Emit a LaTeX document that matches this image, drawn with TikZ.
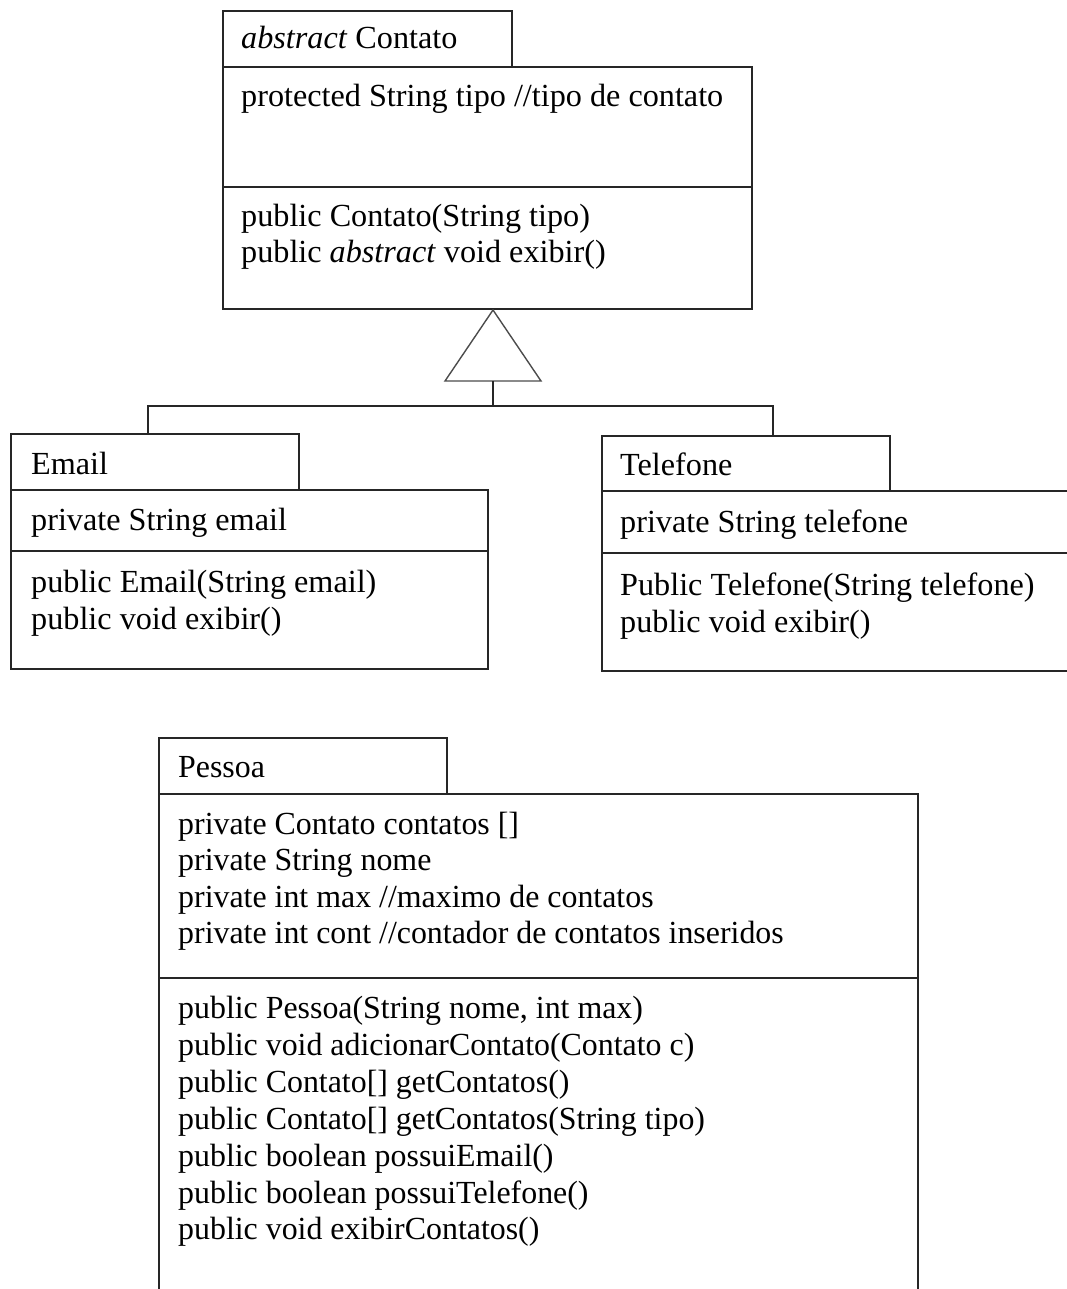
\documentclass[tikz,border=0pt]{standalone}
\usepackage{fontspec}
\setmainfont{Liberation Serif}
\newfontfamily\pfont[FakeStretch=0.99]{Liberation Serif}
\begin{document}
\begin{tikzpicture}[x=1pt,y=-1pt,
  box/.style={draw=black!85,line width=1.6pt,inner sep=0pt,anchor=north west},
  txt/.style={anchor=base west,inner sep=0pt,yshift=-2pt,font=\fontsize{32.2}{37}\selectfont},
  ptxt/.style={anchor=base west,inner sep=0pt,yshift=-2pt,font=\pfont\fontsize{32.2}{37}\selectfont},
  conn/.style={draw=black!85,line width=1.6pt}]
\useasboundingbox (0,0) rectangle (1067,1289);
\clip (0,0) rectangle (1067,1289);
% ---------- Contato ----------
\node[box,minimum width=289,minimum height=56] (cTab) at (222,10) {};
\node[box,minimum width=529,minimum height=120] (cAttr) at (222,66) {};
\node[box,minimum width=529,minimum height=122] (cMeth) at (222,186) {};
\node[txt] (cName) at (241,47) {\textit{abstract} Contato};
\node[txt] (cA1) at (241,105) {protected String tipo //tipo de contato};
\node[txt] (cM1) at (241,224) {public Contato(String tipo)};
\node[txt] (cM2) at (241,260) {public \textit{abstract} void exibir()};
% ---------- Email ----------
\node[box,minimum width=288,minimum height=56] (eTab) at (10,433) {};
\node[box,minimum width=477,minimum height=61] (eAttr) at (10,489) {};
\node[box,minimum width=477,minimum height=118] (eMeth) at (10,550) {};
\node[txt] (eName) at (31,472) {Email};
\node[txt] (eA1) at (31,528) {private String email};
\node[txt] (eM1) at (31,590) {public Email(String email)};
\node[txt] (eM2) at (31,627) {public void exibir()};
% ---------- Telefone ----------
\node[box,minimum width=288,minimum height=55] (tTab) at (601,435) {};
\node[box,minimum width=480,minimum height=62] (tAttr) at (601,490) {};
\node[box,minimum width=480,minimum height=118] (tMeth) at (601,552) {};
\node[txt] (tName) at (620,473) {Telefone};
\node[txt] (tA1) at (620,530) {private String telefone};
\node[txt] (tM1) at (620,593) {Public Telefone(String telefone)};
\node[txt] (tM2) at (620,630) {public void exibir()};
% ---------- Pessoa ----------
\node[box,minimum width=288,minimum height=56] (pTab) at (158,737) {};
\node[box,minimum width=759,minimum height=184] (pAttr) at (158,793) {};
\node[box,minimum width=759,minimum height=330] (pMeth) at (158,977) {};
\node[ptxt] (pName) at (178,775) {Pessoa};
\node[ptxt] (pA1) at (178,832) {private Contato contatos []};
\node[ptxt] (pA2) at (178,868) {private String nome};
\node[ptxt] (pA3) at (178,905) {private int max //maximo de contatos};
\node[ptxt] (pA4) at (178,941) {private int cont //contador de contatos inseridos};
\node[ptxt] (pM1) at (178,1016) {public Pessoa(String nome, int max)};
\node[ptxt] (pM2) at (178,1053) {public void adicionarContato(Contato c)};
\node[ptxt] (pM3) at (178,1090) {public Contato[] getContatos()};
\node[ptxt] (pM4) at (178,1127) {public Contato[] getContatos(String tipo)};
\node[ptxt] (pM5) at (178,1164) {public boolean possuiEmail()};
\node[ptxt] (pM6) at (178,1201) {public boolean possuiTelefone()};
\node[ptxt] (pM7) at (178,1237) {public void exibirContatos()};
% ---------- Generalization ----------
\coordinate (apex) at (493,310);
\coordinate (triL) at (445,381);
\coordinate (triR) at (541,381);
\coordinate (triB) at (493,381);
\coordinate (junc) at (493,406);
\coordinate (eTop) at (148,433);
\coordinate (tTop) at (773,435);
\draw[conn,draw=black!70,line width=1.4pt,line join=miter] (apex) -- (triR) -- (triL) -- cycle;
\draw[conn] (triB) -- (junc);
\draw[conn] (eTop) |- (junc) -| (tTop);
\end{tikzpicture}
\end{document}
